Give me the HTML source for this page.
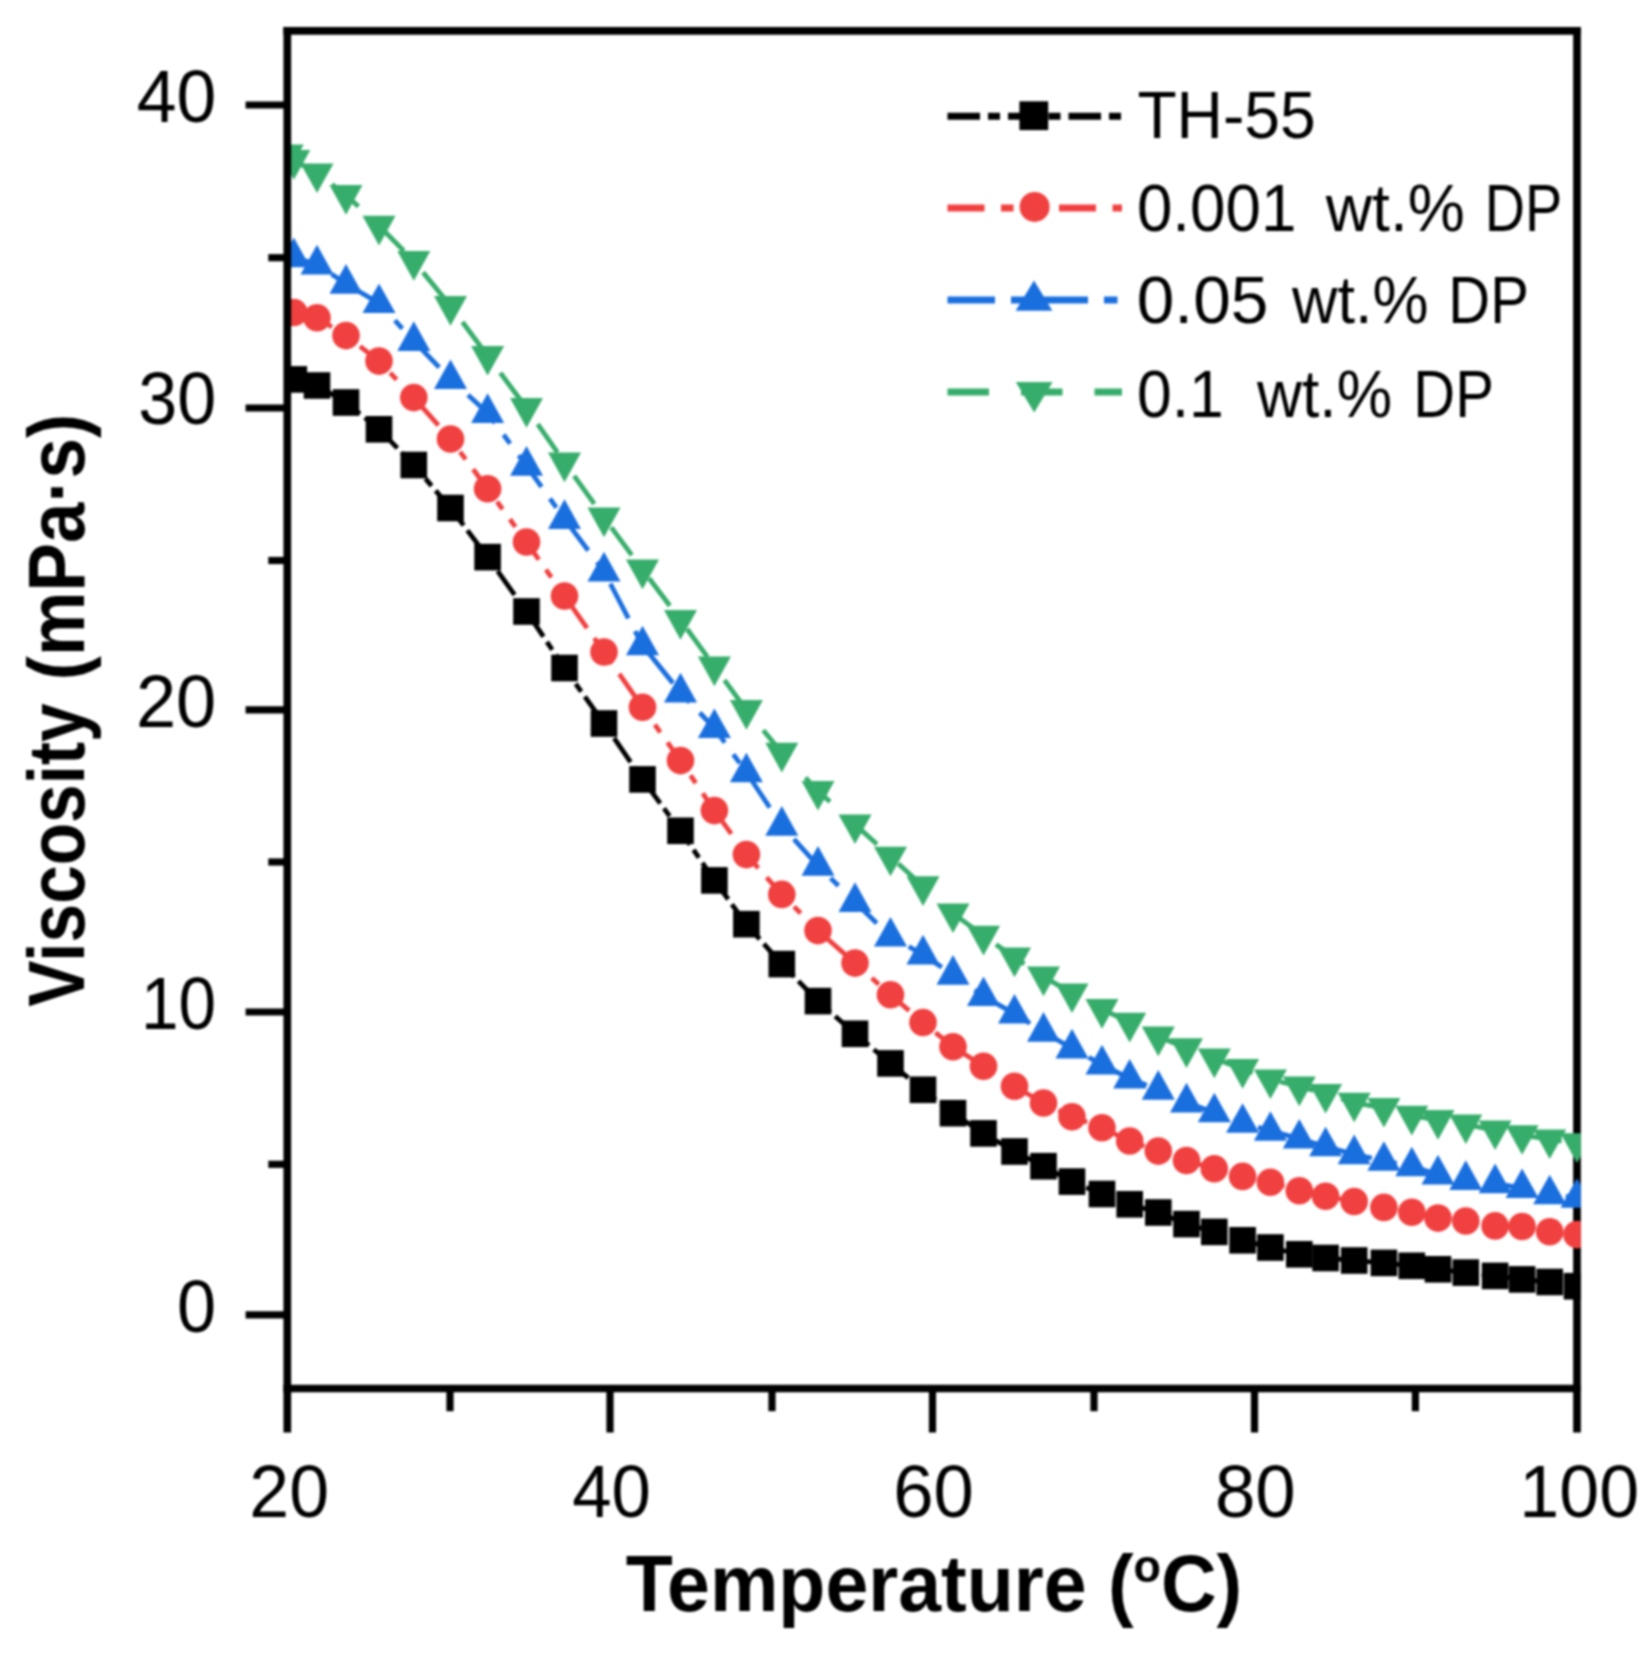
<!DOCTYPE html><html><head><meta charset="utf-8"><title>Viscosity vs Temperature</title><style>html,body{margin:0;padding:0;background:#fff}svg{display:block}.w{width:1644px;height:1662px;overflow:hidden;filter:blur(1px)}text{font-family:"Liberation Sans",sans-serif;fill:#000}</style></head><body><div class="w">
<svg width="1644" height="1662" viewBox="0 0 1644 1662">
<rect width="1644" height="1662" fill="#fff"/>
<defs><clipPath id="pc"><rect x="287.3" y="30.8" width="1293.5" height="1357.7"/></clipPath></defs>
<g stroke="#000" stroke-width="7.7" fill="none">
<line x1="283.4" y1="30.8" x2="1580.8" y2="30.8"/>
<line x1="1577.0" y1="26.9" x2="1577.0" y2="1432.5"/>
</g>
<g clip-path="url(#pc)">
<polyline points="293.8,379.4 317.0,385.5 346.0,402.5 379.0,429.3 413.8,465.0 450.5,508.0 487.6,557.1 526.5,611.5 564.5,668.0 604.0,723.5 642.5,779.4 680.5,830.8 714.4,880.4 746.4,924.2 781.8,964.1 818.0,1001.1 855.0,1033.8 890.5,1063.4 923.0,1089.8 953.0,1113.2 983.5,1133.4 1014.5,1151.5 1043.5,1166.2 1072.0,1181.6 1102.0,1194.0 1129.7,1204.3 1158.3,1212.5 1186.5,1224.1 1214.3,1231.9 1242.6,1240.3 1270.4,1247.5 1299.3,1254.3 1325.6,1258.0 1354.2,1260.5 1383.9,1262.9 1411.8,1265.8 1438.0,1269.3 1465.8,1272.6 1495.1,1275.9 1522.1,1279.4 1549.7,1282.0 1577.0,1286.2" fill="none" stroke="#000000" stroke-width="4.8" stroke-dasharray="29.0 6.2 9.5 6.2" stroke-dashoffset="20.0"/>
<rect x="280.5" y="366.1" width="26.6" height="26.6" fill="#000000"/><rect x="303.7" y="372.2" width="26.6" height="26.6" fill="#000000"/><rect x="332.7" y="389.2" width="26.6" height="26.6" fill="#000000"/><rect x="365.7" y="416.0" width="26.6" height="26.6" fill="#000000"/><rect x="400.5" y="451.7" width="26.6" height="26.6" fill="#000000"/><rect x="437.2" y="494.7" width="26.6" height="26.6" fill="#000000"/><rect x="474.3" y="543.8" width="26.6" height="26.6" fill="#000000"/><rect x="513.2" y="598.2" width="26.6" height="26.6" fill="#000000"/><rect x="551.2" y="654.7" width="26.6" height="26.6" fill="#000000"/><rect x="590.7" y="710.2" width="26.6" height="26.6" fill="#000000"/><rect x="629.2" y="766.1" width="26.6" height="26.6" fill="#000000"/><rect x="667.2" y="817.5" width="26.6" height="26.6" fill="#000000"/><rect x="701.1" y="867.1" width="26.6" height="26.6" fill="#000000"/><rect x="733.1" y="910.9" width="26.6" height="26.6" fill="#000000"/><rect x="768.5" y="950.8" width="26.6" height="26.6" fill="#000000"/><rect x="804.7" y="987.8" width="26.6" height="26.6" fill="#000000"/><rect x="841.7" y="1020.5" width="26.6" height="26.6" fill="#000000"/><rect x="877.2" y="1050.1" width="26.6" height="26.6" fill="#000000"/><rect x="909.7" y="1076.5" width="26.6" height="26.6" fill="#000000"/><rect x="939.7" y="1099.9" width="26.6" height="26.6" fill="#000000"/><rect x="970.2" y="1120.1" width="26.6" height="26.6" fill="#000000"/><rect x="1001.2" y="1138.2" width="26.6" height="26.6" fill="#000000"/><rect x="1030.2" y="1152.9" width="26.6" height="26.6" fill="#000000"/><rect x="1058.7" y="1168.3" width="26.6" height="26.6" fill="#000000"/><rect x="1088.7" y="1180.7" width="26.6" height="26.6" fill="#000000"/><rect x="1116.4" y="1191.0" width="26.6" height="26.6" fill="#000000"/><rect x="1145.0" y="1199.2" width="26.6" height="26.6" fill="#000000"/><rect x="1173.2" y="1210.8" width="26.6" height="26.6" fill="#000000"/><rect x="1201.0" y="1218.6" width="26.6" height="26.6" fill="#000000"/><rect x="1229.3" y="1227.0" width="26.6" height="26.6" fill="#000000"/><rect x="1257.1" y="1234.2" width="26.6" height="26.6" fill="#000000"/><rect x="1286.0" y="1241.0" width="26.6" height="26.6" fill="#000000"/><rect x="1312.3" y="1244.7" width="26.6" height="26.6" fill="#000000"/><rect x="1340.9" y="1247.2" width="26.6" height="26.6" fill="#000000"/><rect x="1370.6" y="1249.6" width="26.6" height="26.6" fill="#000000"/><rect x="1398.5" y="1252.5" width="26.6" height="26.6" fill="#000000"/><rect x="1424.7" y="1256.0" width="26.6" height="26.6" fill="#000000"/><rect x="1452.5" y="1259.3" width="26.6" height="26.6" fill="#000000"/><rect x="1481.8" y="1262.6" width="26.6" height="26.6" fill="#000000"/><rect x="1508.8" y="1266.1" width="26.6" height="26.6" fill="#000000"/><rect x="1536.4" y="1268.7" width="26.6" height="26.6" fill="#000000"/><rect x="1563.7" y="1272.9" width="26.6" height="26.6" fill="#000000"/>
<polyline points="293.8,312.5 317.0,317.8 346.0,335.6 379.0,361.1 413.8,397.6 450.5,439.0 487.6,488.7 526.5,542.0 564.5,596.0 604.0,652.0 642.5,707.3 680.5,760.6 714.4,810.6 746.4,854.6 781.8,894.4 818.0,930.6 855.0,963.1 890.5,994.8 923.0,1022.5 953.0,1046.8 983.5,1066.3 1014.5,1086.3 1043.5,1103.0 1072.0,1116.8 1102.0,1127.8 1129.7,1141.0 1158.3,1151.1 1186.5,1160.5 1214.3,1168.7 1242.6,1176.4 1270.4,1182.3 1299.3,1190.7 1325.6,1196.3 1354.2,1201.5 1383.9,1207.4 1411.8,1212.3 1438.0,1218.1 1465.8,1221.0 1495.1,1225.9 1522.1,1226.5 1549.7,1231.7 1577.0,1234.6" fill="none" stroke="#F14040" stroke-width="4.8" stroke-dasharray="27.8 12.4 9.4 12.4 9.4 12.4" stroke-dashoffset="8.3"/>
<circle cx="293.8" cy="312.5" r="13.80" fill="#F14040"/><circle cx="317.0" cy="317.8" r="13.80" fill="#F14040"/><circle cx="346.0" cy="335.6" r="13.80" fill="#F14040"/><circle cx="379.0" cy="361.1" r="13.80" fill="#F14040"/><circle cx="413.8" cy="397.6" r="13.80" fill="#F14040"/><circle cx="450.5" cy="439.0" r="13.80" fill="#F14040"/><circle cx="487.6" cy="488.7" r="13.80" fill="#F14040"/><circle cx="526.5" cy="542.0" r="13.80" fill="#F14040"/><circle cx="564.5" cy="596.0" r="13.80" fill="#F14040"/><circle cx="604.0" cy="652.0" r="13.80" fill="#F14040"/><circle cx="642.5" cy="707.3" r="13.80" fill="#F14040"/><circle cx="680.5" cy="760.6" r="13.80" fill="#F14040"/><circle cx="714.4" cy="810.6" r="13.80" fill="#F14040"/><circle cx="746.4" cy="854.6" r="13.80" fill="#F14040"/><circle cx="781.8" cy="894.4" r="13.80" fill="#F14040"/><circle cx="818.0" cy="930.6" r="13.80" fill="#F14040"/><circle cx="855.0" cy="963.1" r="13.80" fill="#F14040"/><circle cx="890.5" cy="994.8" r="13.80" fill="#F14040"/><circle cx="923.0" cy="1022.5" r="13.80" fill="#F14040"/><circle cx="953.0" cy="1046.8" r="13.80" fill="#F14040"/><circle cx="983.5" cy="1066.3" r="13.80" fill="#F14040"/><circle cx="1014.5" cy="1086.3" r="13.80" fill="#F14040"/><circle cx="1043.5" cy="1103.0" r="13.80" fill="#F14040"/><circle cx="1072.0" cy="1116.8" r="13.80" fill="#F14040"/><circle cx="1102.0" cy="1127.8" r="13.80" fill="#F14040"/><circle cx="1129.7" cy="1141.0" r="13.80" fill="#F14040"/><circle cx="1158.3" cy="1151.1" r="13.80" fill="#F14040"/><circle cx="1186.5" cy="1160.5" r="13.80" fill="#F14040"/><circle cx="1214.3" cy="1168.7" r="13.80" fill="#F14040"/><circle cx="1242.6" cy="1176.4" r="13.80" fill="#F14040"/><circle cx="1270.4" cy="1182.3" r="13.80" fill="#F14040"/><circle cx="1299.3" cy="1190.7" r="13.80" fill="#F14040"/><circle cx="1325.6" cy="1196.3" r="13.80" fill="#F14040"/><circle cx="1354.2" cy="1201.5" r="13.80" fill="#F14040"/><circle cx="1383.9" cy="1207.4" r="13.80" fill="#F14040"/><circle cx="1411.8" cy="1212.3" r="13.80" fill="#F14040"/><circle cx="1438.0" cy="1218.1" r="13.80" fill="#F14040"/><circle cx="1465.8" cy="1221.0" r="13.80" fill="#F14040"/><circle cx="1495.1" cy="1225.9" r="13.80" fill="#F14040"/><circle cx="1522.1" cy="1226.5" r="13.80" fill="#F14040"/><circle cx="1549.7" cy="1231.7" r="13.80" fill="#F14040"/><circle cx="1577.0" cy="1234.6" r="13.80" fill="#F14040"/>
<polyline points="293.8,257.3 317.0,264.5 346.0,283.8 379.0,303.2 413.8,341.0 450.5,379.1 487.6,413.0 526.5,465.8 564.5,519.0 604.0,571.5 642.5,645.4 680.5,692.5 714.4,728.2 746.4,772.4 781.8,825.8 818.0,865.8 855.0,902.0 890.5,936.6 923.0,954.5 953.0,974.8 983.5,996.2 1014.5,1013.7 1043.5,1031.8 1072.0,1048.5 1102.0,1064.5 1129.7,1078.7 1158.3,1089.8 1186.5,1102.5 1214.3,1112.4 1242.6,1122.9 1270.4,1130.9 1299.3,1138.7 1325.6,1146.4 1354.2,1154.3 1383.9,1160.9 1411.8,1166.4 1438.0,1174.5 1465.8,1180.0 1495.1,1183.3 1522.1,1188.2 1549.7,1194.4 1577.0,1197.9" fill="none" stroke="#1A6FDF" stroke-width="4.8" stroke-dasharray="39.0 14.5 11.0 14.5" stroke-dashoffset="11.6"/>
<polygon points="293.8,237.6 277.3,267.2 310.3,267.2" fill="#1A6FDF"/><polygon points="317.0,244.8 300.5,274.4 333.5,274.4" fill="#1A6FDF"/><polygon points="346.0,264.1 329.5,293.7 362.5,293.7" fill="#1A6FDF"/><polygon points="379.0,283.5 362.5,313.1 395.5,313.1" fill="#1A6FDF"/><polygon points="413.8,321.3 397.3,350.9 430.3,350.9" fill="#1A6FDF"/><polygon points="450.5,359.4 434.0,389.0 467.0,389.0" fill="#1A6FDF"/><polygon points="487.6,393.3 471.1,422.9 504.1,422.9" fill="#1A6FDF"/><polygon points="526.5,446.1 510.0,475.7 543.0,475.7" fill="#1A6FDF"/><polygon points="564.5,499.3 548.0,528.9 581.0,528.9" fill="#1A6FDF"/><polygon points="604.0,551.8 587.5,581.4 620.5,581.4" fill="#1A6FDF"/><polygon points="642.5,625.7 626.0,655.3 659.0,655.3" fill="#1A6FDF"/><polygon points="680.5,672.8 664.0,702.4 697.0,702.4" fill="#1A6FDF"/><polygon points="714.4,708.5 697.9,738.1 730.9,738.1" fill="#1A6FDF"/><polygon points="746.4,752.7 729.9,782.3 762.9,782.3" fill="#1A6FDF"/><polygon points="781.8,806.1 765.3,835.7 798.3,835.7" fill="#1A6FDF"/><polygon points="818.0,846.1 801.5,875.7 834.5,875.7" fill="#1A6FDF"/><polygon points="855.0,882.3 838.5,911.9 871.5,911.9" fill="#1A6FDF"/><polygon points="890.5,916.9 874.0,946.5 907.0,946.5" fill="#1A6FDF"/><polygon points="923.0,934.8 906.5,964.4 939.5,964.4" fill="#1A6FDF"/><polygon points="953.0,955.1 936.5,984.7 969.5,984.7" fill="#1A6FDF"/><polygon points="983.5,976.5 967.0,1006.1 1000.0,1006.1" fill="#1A6FDF"/><polygon points="1014.5,994.0 998.0,1023.6 1031.0,1023.6" fill="#1A6FDF"/><polygon points="1043.5,1012.1 1027.0,1041.7 1060.0,1041.7" fill="#1A6FDF"/><polygon points="1072.0,1028.8 1055.5,1058.4 1088.5,1058.4" fill="#1A6FDF"/><polygon points="1102.0,1044.8 1085.5,1074.4 1118.5,1074.4" fill="#1A6FDF"/><polygon points="1129.7,1059.0 1113.2,1088.6 1146.2,1088.6" fill="#1A6FDF"/><polygon points="1158.3,1070.1 1141.8,1099.7 1174.8,1099.7" fill="#1A6FDF"/><polygon points="1186.5,1082.8 1170.0,1112.4 1203.0,1112.4" fill="#1A6FDF"/><polygon points="1214.3,1092.7 1197.8,1122.3 1230.8,1122.3" fill="#1A6FDF"/><polygon points="1242.6,1103.2 1226.1,1132.8 1259.1,1132.8" fill="#1A6FDF"/><polygon points="1270.4,1111.2 1253.9,1140.8 1286.9,1140.8" fill="#1A6FDF"/><polygon points="1299.3,1119.0 1282.8,1148.6 1315.8,1148.6" fill="#1A6FDF"/><polygon points="1325.6,1126.7 1309.1,1156.3 1342.1,1156.3" fill="#1A6FDF"/><polygon points="1354.2,1134.6 1337.7,1164.2 1370.7,1164.2" fill="#1A6FDF"/><polygon points="1383.9,1141.2 1367.4,1170.8 1400.4,1170.8" fill="#1A6FDF"/><polygon points="1411.8,1146.7 1395.3,1176.3 1428.3,1176.3" fill="#1A6FDF"/><polygon points="1438.0,1154.8 1421.5,1184.4 1454.5,1184.4" fill="#1A6FDF"/><polygon points="1465.8,1160.3 1449.3,1189.9 1482.3,1189.9" fill="#1A6FDF"/><polygon points="1495.1,1163.6 1478.6,1193.2 1511.6,1193.2" fill="#1A6FDF"/><polygon points="1522.1,1168.5 1505.6,1198.1 1538.6,1198.1" fill="#1A6FDF"/><polygon points="1549.7,1174.7 1533.2,1204.3 1566.2,1204.3" fill="#1A6FDF"/><polygon points="1577.0,1178.2 1560.5,1207.8 1593.5,1207.8" fill="#1A6FDF"/>
<polyline points="287.3,154.3 293.8,160.0 317.0,173.4 346.0,195.0 379.0,225.7 413.8,261.0 450.5,306.0 487.6,355.8 526.5,408.0 564.5,462.5 604.0,517.5 642.5,569.5 680.5,620.0 714.4,666.5 746.4,710.0 781.8,752.7 818.0,790.9 855.0,824.4 890.5,856.6 923.0,886.2 953.0,913.4 983.5,935.7 1014.5,957.5 1043.5,976.5 1072.0,993.3 1102.0,1009.0 1129.7,1022.7 1158.3,1036.5 1186.5,1048.2 1214.3,1058.5 1242.6,1069.0 1270.4,1079.3 1299.3,1086.5 1325.6,1093.8 1354.2,1102.6 1383.9,1107.9 1411.8,1115.7 1438.0,1120.0 1465.8,1124.4 1495.1,1130.3 1522.1,1135.1 1549.7,1139.4 1577.0,1143.2" fill="none" stroke="#37AD6B" stroke-width="4.8" stroke-dasharray="34.5 28.9" stroke-dashoffset="9.3"/>
<polygon points="287.3,174.0 270.8,144.4 303.8,144.4" fill="#37AD6B"/><polygon points="293.8,179.7 277.3,150.1 310.3,150.1" fill="#37AD6B"/><polygon points="317.0,193.1 300.5,163.5 333.5,163.5" fill="#37AD6B"/><polygon points="346.0,214.7 329.5,185.1 362.5,185.1" fill="#37AD6B"/><polygon points="379.0,245.4 362.5,215.8 395.5,215.8" fill="#37AD6B"/><polygon points="413.8,280.7 397.3,251.1 430.3,251.1" fill="#37AD6B"/><polygon points="450.5,325.7 434.0,296.1 467.0,296.1" fill="#37AD6B"/><polygon points="487.6,375.5 471.1,345.9 504.1,345.9" fill="#37AD6B"/><polygon points="526.5,427.7 510.0,398.1 543.0,398.1" fill="#37AD6B"/><polygon points="564.5,482.2 548.0,452.6 581.0,452.6" fill="#37AD6B"/><polygon points="604.0,537.2 587.5,507.6 620.5,507.6" fill="#37AD6B"/><polygon points="642.5,589.2 626.0,559.6 659.0,559.6" fill="#37AD6B"/><polygon points="680.5,639.7 664.0,610.1 697.0,610.1" fill="#37AD6B"/><polygon points="714.4,686.2 697.9,656.6 730.9,656.6" fill="#37AD6B"/><polygon points="746.4,729.7 729.9,700.1 762.9,700.1" fill="#37AD6B"/><polygon points="781.8,772.4 765.3,742.8 798.3,742.8" fill="#37AD6B"/><polygon points="818.0,810.6 801.5,781.0 834.5,781.0" fill="#37AD6B"/><polygon points="855.0,844.1 838.5,814.5 871.5,814.5" fill="#37AD6B"/><polygon points="890.5,876.3 874.0,846.7 907.0,846.7" fill="#37AD6B"/><polygon points="923.0,905.9 906.5,876.3 939.5,876.3" fill="#37AD6B"/><polygon points="953.0,933.1 936.5,903.5 969.5,903.5" fill="#37AD6B"/><polygon points="983.5,955.4 967.0,925.8 1000.0,925.8" fill="#37AD6B"/><polygon points="1014.5,977.2 998.0,947.6 1031.0,947.6" fill="#37AD6B"/><polygon points="1043.5,996.2 1027.0,966.6 1060.0,966.6" fill="#37AD6B"/><polygon points="1072.0,1013.0 1055.5,983.4 1088.5,983.4" fill="#37AD6B"/><polygon points="1102.0,1028.7 1085.5,999.1 1118.5,999.1" fill="#37AD6B"/><polygon points="1129.7,1042.4 1113.2,1012.8 1146.2,1012.8" fill="#37AD6B"/><polygon points="1158.3,1056.2 1141.8,1026.6 1174.8,1026.6" fill="#37AD6B"/><polygon points="1186.5,1067.9 1170.0,1038.3 1203.0,1038.3" fill="#37AD6B"/><polygon points="1214.3,1078.2 1197.8,1048.6 1230.8,1048.6" fill="#37AD6B"/><polygon points="1242.6,1088.7 1226.1,1059.1 1259.1,1059.1" fill="#37AD6B"/><polygon points="1270.4,1099.0 1253.9,1069.4 1286.9,1069.4" fill="#37AD6B"/><polygon points="1299.3,1106.2 1282.8,1076.6 1315.8,1076.6" fill="#37AD6B"/><polygon points="1325.6,1113.5 1309.1,1083.9 1342.1,1083.9" fill="#37AD6B"/><polygon points="1354.2,1122.3 1337.7,1092.7 1370.7,1092.7" fill="#37AD6B"/><polygon points="1383.9,1127.6 1367.4,1098.0 1400.4,1098.0" fill="#37AD6B"/><polygon points="1411.8,1135.4 1395.3,1105.8 1428.3,1105.8" fill="#37AD6B"/><polygon points="1438.0,1139.7 1421.5,1110.1 1454.5,1110.1" fill="#37AD6B"/><polygon points="1465.8,1144.1 1449.3,1114.5 1482.3,1114.5" fill="#37AD6B"/><polygon points="1495.1,1150.0 1478.6,1120.4 1511.6,1120.4" fill="#37AD6B"/><polygon points="1522.1,1154.8 1505.6,1125.2 1538.6,1125.2" fill="#37AD6B"/><polygon points="1549.7,1159.1 1533.2,1129.5 1566.2,1129.5" fill="#37AD6B"/><polygon points="1577.0,1162.9 1560.5,1133.3 1593.5,1133.3" fill="#37AD6B"/>
</g>
<g stroke="#000" stroke-width="7.7" fill="none">
<line x1="287.3" y1="26.9" x2="287.3" y2="1432.5"/>
<line x1="283.4" y1="1388.5" x2="1580.8" y2="1388.5"/>
</g><g stroke="#000" stroke-width="7.2" fill="none">
<line x1="610.0" y1="1388.5" x2="610.0" y2="1432.5"/>
<line x1="932.5" y1="1388.5" x2="932.5" y2="1432.5"/>
<line x1="1254.5" y1="1388.5" x2="1254.5" y2="1432.5"/>
<line x1="450.0" y1="1388.5" x2="450.0" y2="1411.2"/>
<line x1="772.0" y1="1388.5" x2="772.0" y2="1411.2"/>
<line x1="1094.0" y1="1388.5" x2="1094.0" y2="1411.2"/>
<line x1="1415.4" y1="1388.5" x2="1415.4" y2="1411.2"/>
<line x1="245.6" y1="1314.8" x2="287.3" y2="1314.8"/>
<line x1="245.6" y1="1012.0" x2="287.3" y2="1012.0"/>
<line x1="245.6" y1="709.8" x2="287.3" y2="709.8"/>
<line x1="245.6" y1="408.0" x2="287.3" y2="408.0"/>
<line x1="245.6" y1="105.0" x2="287.3" y2="105.0"/>
<line x1="268.3" y1="1164.3" x2="287.3" y2="1164.3"/>
<line x1="268.3" y1="862.0" x2="287.3" y2="862.0"/>
<line x1="268.3" y1="560.5" x2="287.3" y2="560.5"/>
<line x1="268.3" y1="257.7" x2="287.3" y2="257.7"/>
</g>
<text transform="translate(136.71,122.00) scale(0.9726,1)" font-size="73.5">40</text>
<text transform="translate(138.20,424.45) scale(0.9537,1)" font-size="73.5">30</text>
<text transform="translate(135.89,726.90) scale(0.9831,1)" font-size="73.5">20</text>
<text transform="translate(140.93,1029.35) scale(0.9189,1)" font-size="73.5">10</text>
<text transform="translate(176.99,1331.80) scale(0.9567,1)" font-size="73.5">0</text>
<text transform="translate(249.32,1516.50) scale(0.9751,1)" font-size="73.5">20</text>
<text transform="translate(572.13,1516.50) scale(0.9621,1)" font-size="73.5">40</text>
<text transform="translate(893.28,1516.50) scale(0.9857,1)" font-size="73.5">60</text>
<text transform="translate(1214.93,1516.50) scale(0.9889,1)" font-size="73.5">80</text>
<text transform="translate(1519.31,1516.50) scale(0.9770,1)" font-size="73.5">100</text>
<text transform="translate(625.73,1610.60) scale(0.9750,1)" font-size="79.0" font-weight="bold">Temperature (<tspan font-size="46.0" dy="-29">o</tspan><tspan dy="29">C)</tspan></text>
<text transform="translate(83.9,1006.69) rotate(-90) scale(0.8781,1)" font-size="79.0" font-weight="bold">Viscosity</text>
<text transform="translate(83.9,680.13) rotate(-90) scale(0.9191,1)" font-size="79.0" font-weight="bold">(mPa·s)</text>
<line x1="947.5" y1="116.3" x2="1122" y2="116.3" stroke="#000000" stroke-width="7.0" stroke-dasharray="32.5 8.0 12.0 8.0"/>
<rect x="1019.4" y="101.3" width="28.8" height="28.8" fill="#000000"/>
<text y="138.00" font-size="66.0"><tspan x="1137.39" textLength="178.39" lengthAdjust="spacingAndGlyphs">TH-55</tspan></text>
<line x1="947.5" y1="207.9" x2="1122" y2="207.9" stroke="#F14040" stroke-width="7.0" stroke-dasharray="37.0 16.5 12.5 16.5 12.5 16.5"/>
<circle cx="1034.6" cy="206.9" r="15.00" fill="#F14040"/>
<text y="231.00" font-size="66.0"><tspan x="1136.95" textLength="159.39" lengthAdjust="spacingAndGlyphs">0.001</tspan> <tspan x="1325.70" textLength="139.15" lengthAdjust="spacingAndGlyphs">wt.%</tspan> <tspan x="1484.84" textLength="77.49" lengthAdjust="spacingAndGlyphs">DP</tspan></text>
<line x1="947.5" y1="300.0" x2="1122" y2="300.0" stroke="#1A6FDF" stroke-width="7.0" stroke-dasharray="47.5 16.0 13.5 16.0"/>
<polygon points="1034.0,280.4 1015.6,310.7 1052.4,310.7" fill="#1A6FDF"/>
<text y="323.40" font-size="66.0"><tspan x="1136.80" textLength="131.49" lengthAdjust="spacingAndGlyphs">0.05</tspan> <tspan x="1292.00" textLength="136.41" lengthAdjust="spacingAndGlyphs">wt.%</tspan> <tspan x="1448.37" textLength="80.48" lengthAdjust="spacingAndGlyphs">DP</tspan></text>
<line x1="947.5" y1="392.0" x2="1122" y2="392.0" stroke="#37AD6B" stroke-width="7.0" stroke-dasharray="41.5 32.0"/>
<polygon points="1034.2,412.6 1015.8,382.1 1052.6,382.1" fill="#37AD6B"/>
<text y="416.50" font-size="66.0"><tspan x="1137.00" textLength="86.83" lengthAdjust="spacingAndGlyphs">0.1</tspan> <tspan x="1257.10" textLength="134.89" lengthAdjust="spacingAndGlyphs">wt.%</tspan> <tspan x="1413.37" textLength="80.48" lengthAdjust="spacingAndGlyphs">DP</tspan></text>
</svg></div></body></html>
